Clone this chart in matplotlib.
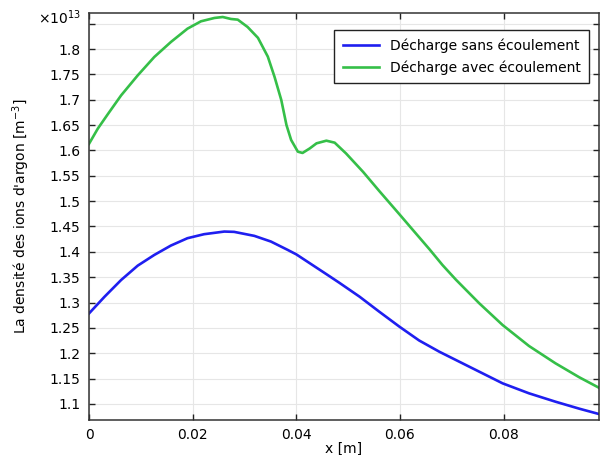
import matplotlib
matplotlib.use("Agg")
import matplotlib.pyplot as plt
from matplotlib.ticker import FixedLocator, FuncFormatter

# Argon ion density along the axis (units of 1e13 m^-3)
x_sans = [0, 0.0030, 0.0062, 0.0094, 0.0126, 0.0158, 0.0190, 0.0222, 0.0261,
          0.0280, 0.0319, 0.0351, 0.0383, 0.0400, 0.0458, 0.0483, 0.0522, 0.0560,
          0.0599, 0.0637, 0.0676, 0.0740, 0.0798, 0.0849, 0.0900, 0.0946, 0.0986]
n_sans = [1.2785, 1.3115, 1.3445, 1.3728, 1.3939, 1.4124, 1.4269, 1.4348, 1.4400,
          1.4394, 1.4315, 1.4203, 1.4040, 1.3950, 1.3560, 1.3390, 1.3116, 1.2820,
          1.2524, 1.2252, 1.2030, 1.1703, 1.1407, 1.1210, 1.1045, 1.0907, 1.0796]

x_avec = [0, 0.0017, 0.0037, 0.0062, 0.0094, 0.0126, 0.0158, 0.0190, 0.0216,
          0.0242, 0.0258, 0.0274, 0.0287, 0.0306, 0.0326, 0.0345, 0.0358, 0.0371,
          0.0381, 0.0390, 0.0403, 0.0412, 0.0426, 0.0439, 0.0458, 0.0474, 0.0496,
          0.0529, 0.0560, 0.0599, 0.0625, 0.0657, 0.0682, 0.0708, 0.0753, 0.0798,
          0.0849, 0.0900, 0.0946, 0.0986]
n_avec = [1.613, 1.643, 1.6725, 1.7086, 1.748, 1.7843, 1.8138, 1.8401, 1.8546,
          1.8612, 1.8631, 1.8592, 1.8579, 1.8434, 1.8220, 1.785, 1.745, 1.6994,
          1.650, 1.6206, 1.5975, 1.5950, 1.604, 1.614, 1.6192, 1.6153, 1.594,
          1.5575, 1.5200, 1.4740, 1.4430, 1.4050, 1.3740, 1.3450, 1.2985, 1.2557,
          1.2143, 1.1802, 1.1526, 1.1309]

labels = ["Décharge sans écoulement", "Décharge avec écoulement"]
x_ticks = [0, 0.02, 0.04, 0.06, 0.08]
y_ticks = [1.1, 1.15, 1.2, 1.25, 1.3, 1.35, 1.4, 1.45, 1.5, 1.55, 1.6, 1.65,
           1.7, 1.75, 1.8, 1.85]

plt.rcParams['font.family'] = ['DejaVu Sans']

fig = plt.figure(figsize=(6.01, 4.55), dpi=100)
ax = fig.add_axes([89/601, 35/455, (599-89)/601, (420-13)/455])

ax.plot(x_sans, n_sans, color="#1f1ff0", lw=1.9, label=labels[0])
ax.plot(x_avec, n_avec, color="#35bf48", lw=1.9, label=labels[1])

ax.set_xlim(0, 0.0984)
ax.set_ylim(1.0684, 1.871)

ax.xaxis.set_major_locator(FixedLocator(x_ticks))
ax.yaxis.set_major_locator(FixedLocator(y_ticks))
ax.xaxis.set_major_formatter(FuncFormatter(lambda v, p: "%g" % round(v, 4)))
ax.yaxis.set_major_formatter(
    FuncFormatter(lambda v, p: "" if abs(v - 1.85) < 1e-6 else "%g" % round(v, 3)))

ax.grid(True, color="#e6e6e6", lw=0.8)
ax.set_axisbelow(True)
ax.tick_params(direction="in", length=4, width=1, top=True, right=True,
               labelsize=10, colors="#222222", labelcolor="black", pad=6)
for s in ax.spines.values():
    s.set_color("#333333")
    s.set_linewidth(1.1)

ax.set_xlabel("x [m]", fontsize=10, labelpad=0)
ax.set_ylabel("La densité des ions d'argon [m$^{-3}$]", fontsize=10, labelpad=13)
fig.text(38/601, (455-18)/455, r"$\times$10$^{13}$", fontsize=10,
         ha="left", va="center")

leg = ax.legend(loc="upper right", bbox_to_anchor=((589-89)/510, (420-30)/407),
                borderaxespad=0, fancybox=False, framealpha=1,
                edgecolor="#222222", fontsize=10, handlelength=2.6,
                borderpad=0.6, labelspacing=0.55)
leg.get_frame().set_linewidth(1.0)

fig.savefig("out.png", dpi=100)
